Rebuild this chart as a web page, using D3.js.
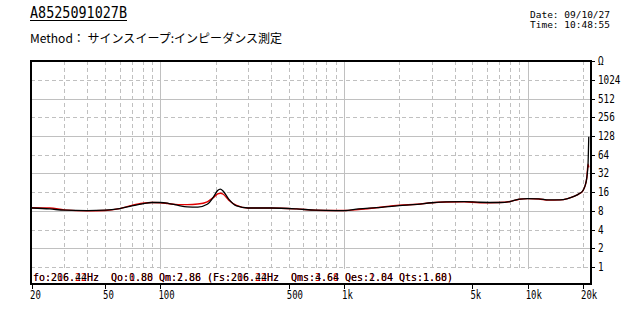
<!DOCTYPE html>
<html>
<head>
<meta charset="utf-8">
<script src="https://cdn.jsdelivr.net/npm/d3@7"></script>
<style>
  body { margin: 0; background: #fff; }
  text { font-family: "DejaVu Sans Mono", monospace; }
</style>
</head>
<body>
<div class="chart"></div>
<script>
var svgWidth = 628;
var svgHeight = 315;

// measured frequencies (Hz)
var freqs = [20, 25, 30, 40, 50, 60, 70, 80, 90, 100, 110, 125, 140, 160, 180, 195, 205, 212, 220, 235, 260, 300,
    400, 550, 700, 900, 1000, 1200, 1500, 2000, 2500, 3000, 3600, 4500, 5500, 7000, 8000, 9000, 10000, 11500,
    13000, 15000, 16500, 18000, 19000, 20000, 20500, 21000, 21300, 21500];

// impedance (ohm), black = current, red = reference
var zBlack = [8.9, 8.6, 8.2, 8.1, 8.2, 8.7, 9.6, 10.4, 10.9, 10.9, 10.6, 9.8, 9.3, 9.2, 10.2, 13.5, 17.0, 17.9, 16.5, 12.5, 9.6, 8.9,
    8.9, 8.6, 8.2, 8.1, 8.1, 8.6, 9.0, 9.7, 10.2, 10.8, 11.2, 11.3, 11.0, 10.9, 11.3, 12.4, 12.6, 12.5,
    12.0, 12.0, 12.6, 13.8, 15.0, 17.0, 20.0, 28.0, 45.0, 125.0];
var zRed = [9.0, 8.9, 8.3, 8.0, 8.1, 8.7, 9.8, 10.6, 10.9, 10.8, 10.5, 10.1, 10.1, 10.3, 11.2, 13.2, 15.0, 15.4, 14.8, 12.0, 9.8, 8.9,
    8.9, 8.6, 8.2, 8.1, 8.1, 8.4, 9.0, 9.9, 10.2, 10.8, 11.1, 11.2, 10.8, 10.9, 11.3, 12.3, 12.6, 12.4,
    11.9, 12.0, 12.6, 13.8, 15.0, 17.0, 20.0, 28.0, 45.0, 40.0];

var xTicks = [20, 50, 100, 500, 1000, 5000, 10000, 20000];
var xTickLabels = ["20", "50", "100", "500", "1k", "5k", "10k", "20k"];
var yTicks = [1, 2, 4, 8, 16, 32, 64, 128, 256, 512, 1024, 2048];
var yTickLabels = ["1", "2", "4", "8", "16", "32", "64", "128", "256", "512", "1024", "\u03a9"];

var titleText = "A8525091027B";
var methodText = "Method\uff1a \u30b5\u30a4\u30f3\u30b9\u30a4\u30fc\u30d7:\u30a4\u30f3\u30d4\u30fc\u30c0\u30f3\u30b9\u6e2c\u5b9a";
var dateText = "Date: 09/10/27";
var timeText = "Time: 10:48:55";
var paramRed = "fo:216.22Hz  Qo:1.88 Qm:7.88 (Fs:216.22Hz  Qms:3.68 Qes:1.84 Qts:1.88)";
var paramBlack = "fo:206.44Hz  Qo:0.80 Qm:2.86 (Fs:206.44Hz  Qms:4.64 Qes:2.04 Qts:1.60)";

var plot = { left: 31, right: 591, top: 61, bottom: 284 };

var svg = d3.select(".chart")
    .append("svg")
    .attr("width", svgWidth)
    .attr("height", svgHeight);

var x = d3.scaleLog().domain([20, 20000]).range([32, 583]);
var y = d3.scaleLog().base(2).domain([0.5, 2048]).range([285.7, 61.2]);

// grid lines
var gridGray = "#c0c0c0";
var xGrid = [];
[10, 100, 1000, 10000].forEach(function(dec) {
    for (var m = 1; m <= 9; m++) {
        var f = dec * m;
        if (f > 20 && f <= 20000) xGrid.push(f);
    }
});
svg.append("g").selectAll("line")
    .data(xGrid)
    .enter().append("line")
    .attr("x1", d => Math.round(x(d)) + 0.5)
    .attr("x2", d => Math.round(x(d)) + 0.5)
    .attr("y1", plot.top)
    .attr("y2", 269)
    .attr("stroke", gridGray)
    .attr("stroke-width", 1)
    .attr("stroke-dasharray", d => ([100, 1000, 10000].indexOf(d) >= 0 ? null : "4,3"));

svg.append("g").selectAll("line")
    .data(yTicks.slice(0, -1))
    .enter().append("line")
    .attr("x1", plot.left)
    .attr("x2", plot.right)
    .attr("y1", d => Math.round(y(d)) + 0.5)
    .attr("y2", d => Math.round(y(d)) + 0.5)
    .attr("stroke", gridGray)
    .attr("stroke-width", 1)
    .attr("stroke-dasharray", d => (Math.round(Math.log2(d)) % 2 === 1 ? null : "4,3"));

// curves
var line = d3.line()
    .x(d => x(d[0]))
    .y(d => y(d[1]))
    .curve(d3.curveMonotoneX);

svg.append("path")
    .datum(freqs.map((f, i) => [f, zRed[i]]))
    .attr("d", line)
    .attr("fill", "none")
    .attr("stroke", "#e00000")
    .attr("stroke-width", 1.4);

svg.append("path")
    .datum(freqs.map((f, i) => [f, zBlack[i]]))
    .attr("d", line)
    .attr("fill", "none")
    .attr("stroke", "#000")
    .attr("stroke-width", 1.3);

// parameter box
svg.append("rect")
    .attr("x", plot.left + 1)
    .attr("y", 269)
    .attr("width", plot.right - plot.left - 2)
    .attr("height", 14)
    .attr("fill", "#fff");

svg.append("text")
    .attr("x", 33).attr("y", 281)
    .attr("font-size", 11)
    .attr("fill", "#e00000")
    .attr("textLength", 420)
    .attr("lengthAdjust", "spacingAndGlyphs")
    .attr("xml:space", "preserve")
    .text(paramRed);
svg.append("text")
    .attr("x", 33).attr("y", 281)
    .attr("font-size", 11)
    .attr("fill", "#000")
    .attr("textLength", 420)
    .attr("lengthAdjust", "spacingAndGlyphs")
    .attr("xml:space", "preserve")
    .text(paramBlack);

// frame
svg.append("rect")
    .attr("x", plot.left)
    .attr("y", plot.top)
    .attr("width", plot.right - plot.left)
    .attr("height", plot.bottom - plot.top)
    .attr("fill", "none")
    .attr("stroke", "#000")
    .attr("stroke-width", 2);

// x axis ticks + labels
var xAxisG = svg.append("g");
xAxisG.selectAll("line")
    .data(xTicks)
    .enter().append("line")
    .attr("x1", d => Math.round(x(d)) + 0.5)
    .attr("x2", d => Math.round(x(d)) + 0.5)
    .attr("y1", plot.bottom)
    .attr("y2", 289)
    .attr("stroke", "#000");
xAxisG.selectAll("text")
    .data(xTicks)
    .enter().append("text")
    .attr("x", d => x(d) - 2)
    .attr("y", 299)
    .attr("font-size", 12)
    .attr("textLength", (d, i) => xTickLabels[i].length * 5.4)
    .attr("lengthAdjust", "spacingAndGlyphs")
    .text((d, i) => xTickLabels[i]);

// y axis (right) ticks + labels
var yAxisG = svg.append("g");
yAxisG.selectAll("line")
    .data(yTicks)
    .enter().append("line")
    .attr("x1", plot.right)
    .attr("x2", 595)
    .attr("y1", d => Math.round(y(d)) + 0.5)
    .attr("y2", d => Math.round(y(d)) + 0.5)
    .attr("stroke", "#000");
yAxisG.selectAll("text")
    .data(yTicks)
    .enter().append("text")
    .attr("x", 598)
    .attr("y", d => y(d) + 4)
    .attr("font-size", 12)
    .attr("textLength", (d, i) => yTickLabels[i].length * 5.6)
    .attr("lengthAdjust", "spacingAndGlyphs")
    .text((d, i) => yTickLabels[i]);

// header
svg.append("text")
    .attr("x", 30).attr("y", 18)
    .attr("font-size", 16)
    .attr("textLength", 97)
    .attr("lengthAdjust", "spacingAndGlyphs")
    .text(titleText);
svg.append("line")
    .attr("x1", 30).attr("x2", 127)
    .attr("y1", 20.5).attr("y2", 20.5)
    .attr("stroke", "#000");

svg.append("text")
    .attr("x", 30).attr("y", 43)
    .attr("font-size", 12)
    .style("font-family", "'Noto Sans CJK JP', sans-serif")
    .attr("textLength", 252)
    .attr("lengthAdjust", "spacingAndGlyphs")
    .text(methodText);

svg.append("text")
    .attr("x", 530).attr("y", 18)
    .attr("font-size", 9.5)
    .attr("textLength", 80)
    .attr("lengthAdjust", "spacingAndGlyphs")
    .text(dateText);
svg.append("text")
    .attr("x", 530).attr("y", 28)
    .attr("font-size", 9.5)
    .attr("textLength", 80)
    .attr("lengthAdjust", "spacingAndGlyphs")
    .text(timeText);
</script>
</body>
</html>
